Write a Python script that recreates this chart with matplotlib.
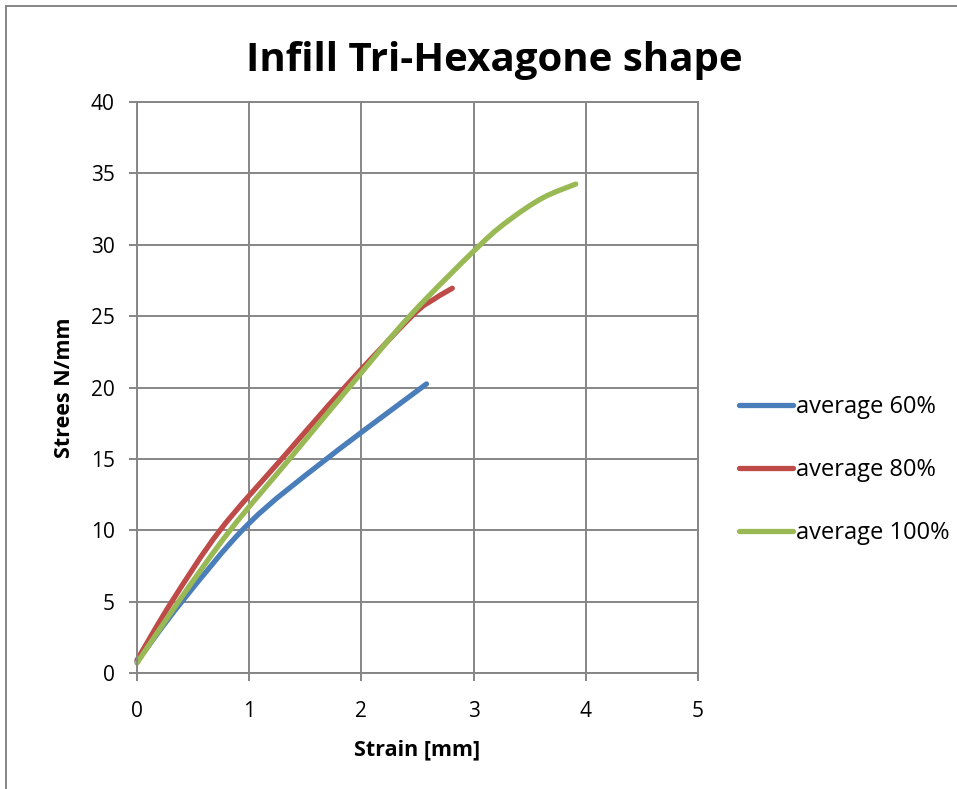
import numpy as np
import matplotlib.pyplot as plt
from matplotlib.lines import Line2D
from matplotlib.patches import PathPatch, Rectangle
from matplotlib.path import Path

# Strain [mm] / stress readings for each infill density
strain_60 = [0.0, 0.40, 1.0, 1.69, 2.58]
stress_60 = [0.8, 5.0, 10.5, 15.0, 20.25]

strain_80 = [0.0, 0.31, 0.74, 1.29, 1.85, 2.45, 2.65, 2.81]
stress_80 = [0.9, 5.0, 10.0, 15.0, 20.0, 25.0, 26.2, 26.95]

strain_100 = [0.0, 0.37, 0.83, 1.36, 1.89, 2.43, 3.06, 3.33, 3.62, 3.91]
stress_100 = [0.7, 5.0, 10.0, 15.0, 20.0, 25.0, 30.0, 31.8, 33.3, 34.25]

labels = ["average 60%", "average 80%", "average 100%"]
colors = ["#4A7EBB", "#BE4B48", "#98B954"]

GRID = "#868686"
LW = 3.8


def smooth_path(x, y):
    """Cubic Bezier path through the points, spreadsheet-style smoothing."""
    p = np.column_stack([x, y])
    n = len(p)
    verts = [p[0]]
    codes = [Path.MOVETO]
    for i in range(n - 1):
        p0 = p[i - 1] if i > 0 else p[i]
        p3 = p[i + 2] if i + 2 < n else p[i + 1]
        c1 = p[i] + (p[i + 1] - p0) / 6
        c2 = p[i + 1] - (p3 - p[i]) / 6
        verts += [c1, c2, p[i + 1]]
        codes += [Path.CURVE4] * 3
    return Path(verts, codes)


plt.rcParams["font.family"] = ["Open Sans", "DejaVu Sans"]

fig = plt.figure(figsize=(9.57, 7.89), dpi=100)
ax = fig.add_axes([137 / 957, 1 - 673 / 789, (698 - 137) / 957, (673 - 102) / 789])

series = [(strain_60, stress_60), (strain_80, stress_80), (strain_100, stress_100)]
handles = []
for (x, y), lab, c in zip(series, labels, colors):
    ax.add_patch(PathPatch(smooth_path(x, y), facecolor="none", edgecolor=c, lw=LW,
                           capstyle="round", joinstyle="round", clip_on=False))
    handles.append(Line2D([], [], color=c, lw=LW, solid_capstyle="round", label=lab))

ax.set_xlim(0, 5)
ax.set_ylim(0, 40)
ax.set_xticks(range(0, 6))
ax.set_yticks(range(0, 41, 5))
ax.grid(True, color=GRID, lw=1.4)
ax.set_axisbelow(True)
for s in ax.spines.values():
    s.set_color(GRID)
    s.set_linewidth(1.4)
ax.tick_params(colors=GRID, labelcolor="black", labelsize=15, length=6, width=1.4)
ax.tick_params(axis="x", pad=14)
ax.tick_params(axis="y", pad=10)

fig.text(494 / 957, 1 - 60 / 789, "Infill Tri-Hexagone shape", fontsize=29,
         fontweight="bold", ha="center", va="center")
ax.set_xlabel("Strain [mm]", fontsize=15.5, fontweight="bold", labelpad=13)
ax.set_ylabel("Strees N/mm", fontsize=15.5, fontweight="bold", labelpad=11)

fig.legend(handles=handles, loc="center left", bbox_to_anchor=(739 / 957, 1 - 470 / 789),
           frameon=False, fontsize=17, handlelength=2.3, handletextpad=0.1,
           labelspacing=1.65, borderaxespad=0, borderpad=0)

# outer chart border
fig.patches.append(Rectangle((6 / 957, -0.1), 1.2, 1 - 6 / 789 + 0.1,
                             transform=fig.transFigure, fill=False,
                             edgecolor=GRID, lw=1.4))

fig.savefig("out.png", dpi=100)
